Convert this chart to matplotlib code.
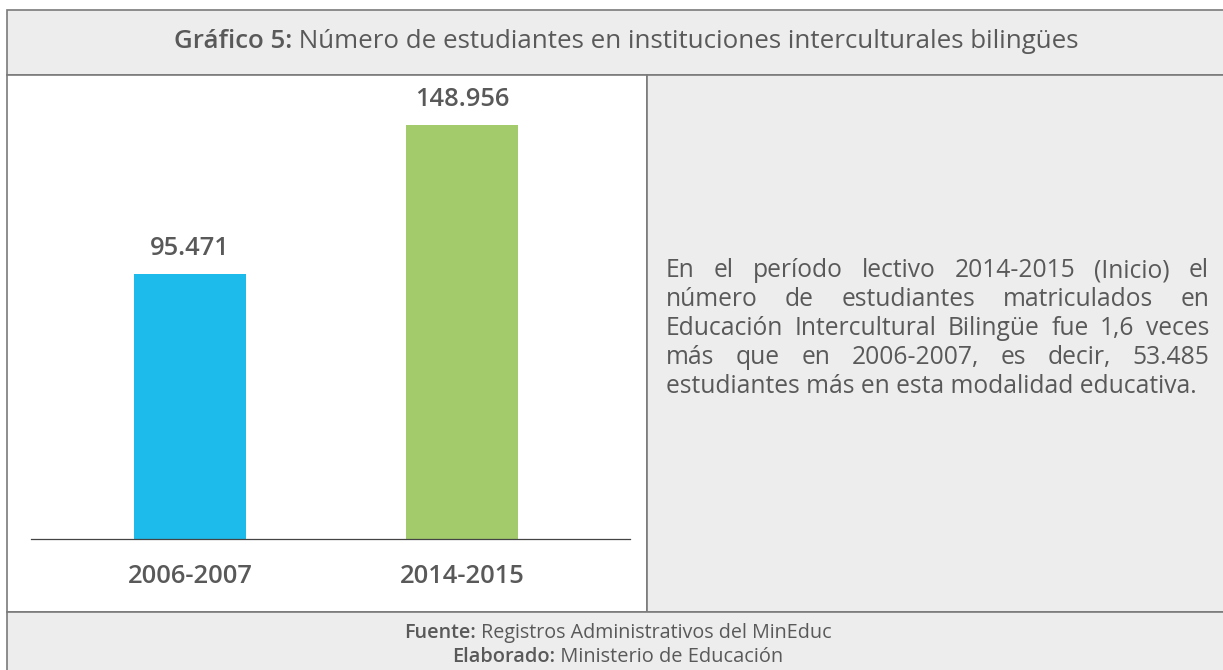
import matplotlib.pyplot as plt
from matplotlib.patches import Rectangle

# data
periods = ['2006-2007', '2014-2015']
students = [95471, 148956]
value_labels = ['95.471', '148.956']
bar_colors = ['#1CBBEC', '#A3CB6B']

title_bold = 'Gráfico 5:'
title_rest = ' Número de estudiantes en instituciones interculturales bilingües'
note_lines = [
    'En el período lectivo 2014-2015 (Inicio) el',
    'número de estudiantes matriculados en',
    'Educación Intercultural Bilingüe fue 1,6 veces',
    'más que en 2006-2007, es decir, 53.485',
    'estudiantes más en esta modalidad educativa.',
]
footer = [('Fuente:', ' Registros Administrativos del MinEduc'),
          ('Elaborado:', ' Ministerio de Educación')]

W, H = 1223, 670
TXT = '#595959'
GREY = '#EDEDED'
EDGE = '#7a7a7a'
plt.rcParams['font.family'] = ['Open Sans', 'Liberation Sans', 'DejaVu Sans']

fig = plt.figure(figsize=(W / 100, H / 100), dpi=100)
fig.patch.set_facecolor('white')


def fx(px):
    return px / W


def fy(py):
    return 1 - py / H


def box(x0, y0, x1, y1, fc):
    fig.add_artist(Rectangle((fx(x0), fy(y1)), fx(x1 - x0), (y1 - y0) / H,
                             transform=fig.transFigure, facecolor=fc,
                             edgecolor=EDGE, linewidth=1.2, zorder=0))


box(7, 10, 1235, 75, GREY)
box(7, 75, 647, 612, 'white')
box(647, 75, 1235, 612, GREY)
box(7, 612, 1235, 690, GREY)

fig.canvas.draw()
renderer = fig.canvas.get_renderer()


def text_width(s, size=10, weight='normal'):
    t = fig.text(0, 0, s, fontsize=size, fontweight=weight)
    w = t.get_window_extent(renderer).width
    t.remove()
    return w


def fit_size(parts, target):
    # font size at which the parts together span the target width
    w = sum(text_width(s, 10, wt) for s, wt in parts)
    return 10 * target / w


def two_part(xc, yc, bold, rest, target):
    size = fit_size([(bold, 'semibold'), (rest, 'normal')], target)
    wb = text_width(bold, size, 'semibold')
    wr = text_width(rest, size)
    x0 = xc - (wb + wr) / 2
    fig.text(fx(x0), fy(yc), bold, fontsize=size, fontweight='semibold',
             color=TXT, va='center')
    fig.text(fx(x0 + wb), fy(yc), rest, fontsize=size, color=TXT, va='center')


two_part(626, 42, title_bold, title_rest, 905)
two_part(618, 633, footer[0][0], footer[0][1], 430)
two_part(618, 657, footer[1][0], footer[1][1], 331)

# bar chart
ax = fig.add_axes([fx(31), fy(539), fx(599), (539 - 125) / H])
ax.bar(range(len(periods)), students, width=0.412, color=bar_colors)
ax.set_xlim(-0.585, 1.618)
ax.set_ylim(0, max(students))
num_size = fit_size([(value_labels[1], 'semibold')], 95)
for i, v in enumerate(students):
    ax.annotate(value_labels[i], (i, v), xytext=(0, 18),
                textcoords='offset points', ha='center', va='center',
                fontsize=num_size, fontweight='semibold', color=TXT,
                annotation_clip=False)
tick_size = fit_size([(periods[0], 'semibold')], 126)
ax.set_xticks(range(len(periods)), periods)
ax.tick_params(axis='x', length=0, labelsize=tick_size, labelcolor=TXT, pad=18)
for lab in ax.get_xticklabels():
    lab.set_fontweight('semibold')
ax.set_yticks([])
for s in ['top', 'right', 'left']:
    ax.spines[s].set_visible(False)
ax.spines['bottom'].set_color('#444444')
ax.spines['bottom'].set_linewidth(0.9)
ax.set_facecolor('none')

# justified note text
left, right = 666, 1209
size = fit_size([(note_lines[-1], 'normal')], 532)
base0, step = 277, 29
for li, line in enumerate(note_lines):
    yb = base0 + li * step
    words = line.split(' ')
    if li == len(note_lines) - 1:
        fig.text(fx(left), fy(yb), line, fontsize=size, color=TXT,
                 va='baseline')
        continue
    widths = [text_width(w, size) for w in words]
    gap = (right - left - sum(widths)) / (len(words) - 1)
    x = left
    for w, ww in zip(words, widths):
        fig.text(fx(x), fy(yb), w, fontsize=size, color=TXT, va='baseline')
        x += ww + gap

fig.savefig('out.png', dpi=100)
